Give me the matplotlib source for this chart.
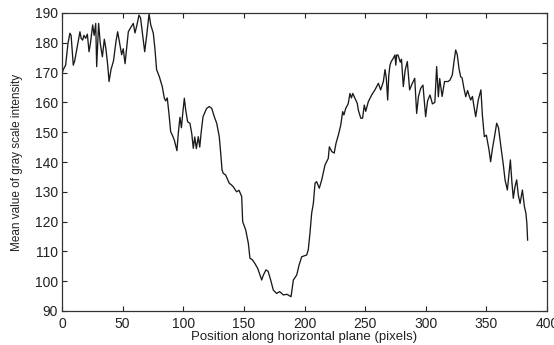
import matplotlib
matplotlib.use("Agg")
import matplotlib.pyplot as plt

# Position along the horizontal plane (pixels)
position = [
    0, 1, 3, 5, 6.5, 7.5, 9.3, 10.5, 12.6, 14.8, 15.8, 17, 18.1, 19.5, 20.9,
    22.3, 23.5, 25.3, 26.5, 27.8, 28.6, 30.2, 31.5, 33.3, 34.9, 36.2, 37.7,
    38.8, 40.4, 42.5, 44.5, 45.9, 47.5, 49.2, 50.5, 52, 53.3, 54.7, 56.5, 58.8,
    60.2, 61.8, 63.5, 64.8, 66.5, 68.2, 70, 71.8, 73.2, 75.3, 76.7, 78, 80.3,
    82.7, 84.4, 85.5, 86.8, 88.2, 89.6, 91, 92.6, 94.8, 95.9, 97.3, 98.5, 99.5,
    100.9, 102, 103.6, 105.5, 107, 108.3, 109.5, 110.8, 112.4, 113.6, 114.8,
    116.3, 119.3, 121.5, 123.5, 125.6, 127.6, 129.7, 130.9, 132, 133, 135,
    137.9, 139.8, 141.2, 144, 146, 148.2, 149, 151.5, 153.7, 155, 157, 159,
    161.4, 164.7, 166, 168.2, 170, 172.1, 174.3, 177, 179.5, 182.5, 185.5,
    188.9, 190.8, 193.6, 195.5, 197.7, 201.8, 203.1, 204.5, 205.9, 207.3,
    208.7, 210, 212.2, 214.2, 216.9, 219.6, 220.5, 222.5, 224.5, 226, 227.9,
    229.9, 231.5, 232.5, 234, 236, 237.5, 238.7, 239.8, 241.5, 243.5, 244.4,
    246.4, 247.9, 249.3, 250.5, 252.6, 255.4, 258.1, 260.9, 262.8, 265, 266.4,
    267.5, 268.6, 269.5, 270.5, 271.5, 273.2, 274.6, 275.3, 276, 277.1, 279,
    280, 281.5, 283, 284.8, 286.7, 288.5, 290.9, 292.5, 294, 295.8, 297.7,
    299.9, 301.5, 303.5, 305.5, 307.5, 309, 310.4, 311.5, 313.5, 315.5, 318.4,
    320, 321.9, 323.3, 324.7, 326, 327.4, 328.8, 330, 331.5, 333, 334.5, 336,
    337.1, 338.5, 339.8, 341.2, 343.3, 345.5, 346.7, 348.3, 350, 352.2, 353.5,
    355, 356.5, 358.5, 360, 362, 364, 365.4, 367.3, 368.7, 369.8, 371, 372.2,
    373.5, 375, 376.3, 377.8, 379.7, 381.4, 382.6, 383.4, 384,
]

# Mean gray scale intensity at each position
intensity = [
    169.5, 171, 172.5, 180, 183.2, 182.5, 172.5, 174, 178.7, 183.7, 181.5,
    180.9, 182.5, 181.5, 182.9, 177, 180, 186, 182.5, 186.5, 172, 186.5, 180,
    175.3, 181.2, 178, 172.5, 167, 171, 174, 180.4, 183.7, 180, 176, 178, 173,
    178, 183.7, 185, 186.5, 183.3, 186, 189.3, 188.3, 182.6, 177, 183, 189.7,
    186, 183.2, 177.7, 171, 168.6, 165.3, 161.4, 160.5, 161.5, 156.3, 150.2,
    149, 147.4, 143.8, 149.6, 155, 151.5, 156, 161.4, 157.5, 153.5, 153,
    149.6, 144.6, 148.4, 144.5, 148.5, 145, 150, 155.2, 158, 158.6, 158,
    155.2, 153, 148.5, 142.9, 137.3, 136.2, 135.6, 132.9, 132.3, 131.7, 130,
    130.5, 128.4, 120, 117.2, 112.7, 107.7, 107.2, 106, 104.3, 100.4, 102,
    103.8, 103.3, 100.4, 97, 95.9, 96.5, 95.4, 95.6, 94.8, 100.4, 102.1,
    105.4, 108.2, 108.8, 110.5, 116.1, 122.8, 126.1, 132.9, 133.4, 131.2,
    134, 139, 141.2, 145.1, 143.5, 143, 146.3, 149, 152.4, 156.9, 155.8, 158,
    159.5, 163, 161.5, 163, 161.5, 159.7, 157.4, 154.7, 154.7, 159.1, 157,
    160.2, 162.5, 164.2, 166.4, 164.2, 166.9, 171, 168, 160.8, 169, 172.5,
    173.7, 174.8, 175.9, 172.5, 175.9, 175.9, 173.5, 174.5, 165.3, 170.8,
    173.7, 164.2, 166, 168.1, 156.3, 162, 164.7, 165.8, 155.2, 160.5, 162.5,
    159.5, 160, 172, 161.9, 168, 162, 167, 167, 167.5, 169.2, 173.7, 177.6,
    176, 171.4, 168.6, 168.2, 164.7, 161.9, 164, 162, 160.8, 162, 158.6,
    155.2, 160.8, 164.2, 155.8, 148.5, 149, 144, 140.1, 144.5, 148, 153,
    151.5, 145.1, 139, 134, 130.6, 136.2, 140.7, 133.5, 127.8, 131.5, 134,
    129, 126.1, 130.6, 125, 122.8, 119.4, 113.8,
]

x_ticks = list(range(0, 401, 50))
y_ticks = list(range(90, 191, 10))

plt.rcParams['font.family'] = ['Liberation Sans', 'DejaVu Sans']

fig = plt.figure(figsize=(5.54, 3.45), dpi=100)
ax = fig.add_axes([62 / 554, 34 / 345, 485 / 554, 298 / 345])

ax.plot(position, intensity, color='#1a1a1a', linewidth=0.95)

ax.set_xlim(0, 400)
ax.set_ylim(90, 190)
ax.set_xticks(x_ticks)
ax.set_yticks(y_ticks)
ax.tick_params(direction='in', length=3.5, width=0.8, top=True, right=True,
               labelsize=10, colors='#222222')
ax.tick_params(axis='x', pad=4)
ax.tick_params(axis='y', pad=3)
for spine in ax.spines.values():
    spine.set_linewidth(0.9)
    spine.set_color('#333333')

ax.set_xlabel('Position along horizontal plane (pixels)', fontsize=9.5,
              labelpad=0.5, color='#222222')
ax.set_ylabel('Mean value of gray scale intensity', fontsize=8.5,
              labelpad=8, color='#222222')

fig.savefig('out.png', dpi=100)
plt.close(fig)
